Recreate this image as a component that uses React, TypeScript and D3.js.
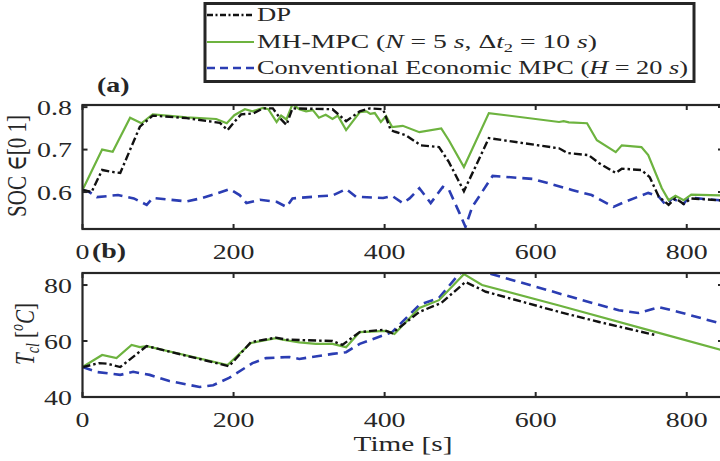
import React from "react";
import * as d3 from "d3";

// Time grid is shared by both panels (seconds)
const timeTicks = [0, 200, 400, 600, 800];
const socTicks = [0.6, 0.7, 0.8];
const tempTicks = [40, 60, 80];

// State of charge trajectories: [time s, SOC]
const socDP: [number, number][] = [
  [0, 0.605], [12, 0.6], [26, 0.652], [37, 0.648], [50, 0.645], [76, 0.754], [93, 0.78],
  [138, 0.774], [182, 0.763], [192, 0.746], [201, 0.765], [210, 0.783], [226, 0.785],
  [239, 0.797], [252, 0.797], [261, 0.775], [270, 0.758], [278, 0.797], [331, 0.795],
  [349, 0.767], [367, 0.79], [380, 0.797], [398, 0.795], [408, 0.746], [414, 0.742],
  [428, 0.734], [448, 0.71], [472, 0.706], [485, 0.671], [505, 0.602], [538, 0.727],
  [631, 0.703], [642, 0.692], [670, 0.687], [684, 0.668], [706, 0.645], [714, 0.655],
  [740, 0.652], [751, 0.635], [763, 0.589], [776, 0.57], [785, 0.585], [796, 0.572],
  [806, 0.585], [848, 0.58],
];
const socMH: [number, number][] = [
  [0, 0.605], [26, 0.7], [40, 0.695], [63, 0.775], [78, 0.762], [93, 0.783], [138, 0.776],
  [177, 0.772], [191, 0.762], [201, 0.781], [215, 0.795], [225, 0.79], [239, 0.798],
  [246, 0.795], [257, 0.765], [263, 0.78], [270, 0.771], [278, 0.807], [287, 0.795],
  [296, 0.79], [305, 0.793], [313, 0.775], [322, 0.782], [331, 0.772], [338, 0.78],
  [349, 0.746], [367, 0.788], [376, 0.79], [381, 0.784], [387, 0.786], [395, 0.765],
  [402, 0.779], [410, 0.753], [424, 0.756], [446, 0.741], [475, 0.75], [485, 0.722],
  [505, 0.659], [538, 0.786], [631, 0.765], [637, 0.767], [644, 0.764], [668, 0.762],
  [681, 0.722], [706, 0.694], [714, 0.71], [740, 0.706], [749, 0.687], [767, 0.609],
  [776, 0.581], [785, 0.591], [796, 0.581], [806, 0.594], [848, 0.592],
];
const socConv: [number, number][] = [
  [0, 0.605], [9, 0.6], [19, 0.588], [47, 0.593], [68, 0.585], [85, 0.57], [93, 0.586],
  [138, 0.578], [156, 0.585], [177, 0.596], [195, 0.607], [208, 0.593], [217, 0.574],
  [235, 0.582], [257, 0.577], [270, 0.565], [278, 0.585], [313, 0.59], [331, 0.592],
  [349, 0.607], [362, 0.589], [398, 0.586], [410, 0.591], [424, 0.574], [433, 0.585],
  [446, 0.609], [461, 0.574], [477, 0.612], [485, 0.606], [499, 0.551], [507, 0.518],
  [516, 0.565], [543, 0.638], [596, 0.631], [648, 0.605], [674, 0.593], [703, 0.565],
  [718, 0.577], [749, 0.598], [763, 0.589], [772, 0.57], [781, 0.585], [796, 0.572],
  [802, 0.587], [848, 0.58],
];

// Coolant temperature trajectories: [time s, T_cl °C]
const tempDP: [number, number][] = [
  [0, 50.7], [22, 52.1], [33, 51.9], [50, 50.7], [85, 58.2], [194, 51], [223, 59.6],
  [256, 61.2], [270, 60.5], [331, 60], [344, 58.6], [367, 63.2], [398, 64], [410, 62.8],
  [446, 70.4], [475, 73.6], [507, 81.1], [534, 77.6], [631, 70.4], [684, 66.8], [759, 62.1],
];
const tempMH: [number, number][] = [
  [0, 50.7], [26, 55], [45, 53.9], [65, 58.6], [76, 57.8], [85, 58.2], [192, 51.4],
  [223, 59.3], [256, 61], [265, 60.5], [287, 59.5], [309, 59], [331, 59], [349, 57.8],
  [367, 63.2], [402, 63.6], [413, 62.5], [446, 71.8], [472, 74.6], [505, 83.9], [529, 80],
  [631, 72.7], [763, 62.9], [848, 56.6],
];
const tempConv: [number, number][] = [
  [0, 50.7], [20, 48.9], [50, 47.9], [67, 49], [89, 47.9], [115, 45.7], [155, 43.6],
  [173, 44.2], [194, 46.8], [225, 52.1], [243, 53.9], [274, 54.3], [287, 53.6], [331, 55.4],
  [349, 56], [367, 59], [410, 63.2], [446, 72.9], [472, 75.4], [494, 82.5], [503, 85],
  [534, 84.5], [631, 77], [675, 73.6], [710, 71], [736, 70], [763, 72.1], [789, 70.4],
  [848, 66],
];

const FONT = "'Liberation Serif', 'DejaVu Serif', serif";
const INK = "#262626";
const SX = 1.33; // horizontal stretch of the typeset labels
const GREEN = "#6db33f";
const BLUE = "#2b3db3";
const BLACK = "#111111";

const x = d3.scaleLinear().domain([0, 848]).range([82.5, 723]);
const ySoc = d3.scaleLinear().domain([0.513, 0.805]).range([229, 105]);
const yTemp = d3.scaleLinear().domain([40, 84.3]).range([397, 273]);

type Pt = [number, number];

function STxt(props: {
  x: number; y: number; anchor?: string; size?: number; weight?: string;
  rotate?: number; children: React.ReactNode;
}) {
  const { x: tx, y: ty, anchor = "start", size = 21, weight = "normal", rotate = 0, children } = props;
  return (
    <text
      transform={`translate(${tx},${ty}) scale(${SX},1)${rotate ? ` rotate(${rotate})` : ""}`}
      textAnchor={anchor}
      fontFamily={FONT}
      fontSize={size}
      fontWeight={weight}
      fill={INK}
    >
      {children}
    </text>
  );
}

function Panel(props: {
  id: string;
  y: d3.ScaleLinear<number, number>;
  yTicks: number[];
  fmt: (v: number) => string;
  dp: Pt[]; mh: Pt[]; conv: Pt[];
}) {
  const { id, y, yTicks, fmt, dp, mh, conv } = props;
  const [x0, x1] = x.range();
  const [yb, yt] = y.range();
  const line = d3.line<Pt>().x((d) => x(d[0])).y((d) => y(d[1]));
  const tl = 5;
  return (
    <g>
      <defs>
        <clipPath id={`clip-${id}`}>
          <rect x={x0} y={yt} width={x1 - x0} height={yb - yt} />
        </clipPath>
      </defs>
      <g clipPath={`url(#clip-${id})`} fill="none">
        <path d={line(conv) ?? ""} stroke={BLUE} strokeWidth={2.6} strokeDasharray="10,6" />
        <path d={line(mh) ?? ""} stroke={GREEN} strokeWidth={2.2} />
        <path d={line(dp) ?? ""} stroke={BLACK} strokeWidth={2.4} strokeDasharray="8,3,2.5,3" />
      </g>
      {/* inward ticks on all four sides */}
      <g stroke={INK} strokeWidth={2}>
        {timeTicks.map((t) => (
          <g key={`xt${t}`}>
            <line x1={x(t)} x2={x(t)} y1={yb} y2={yb - tl} />
            <line x1={x(t)} x2={x(t)} y1={yt} y2={yt + tl} />
          </g>
        ))}
        {yTicks.map((v) => (
          <g key={`yt${v}`}>
            <line x1={x0} x2={x0 + tl} y1={y(v)} y2={y(v)} />
            <line x1={x1} x2={x1 - tl} y1={y(v)} y2={y(v)} />
          </g>
        ))}
      </g>
      <rect x={x0} y={yt} width={x1 - x0} height={yb - yt} fill="none" stroke={INK} strokeWidth={2.2} />
      {timeTicks.map((t) => (
        <STxt key={`xl${t}`} x={x(t)} y={yb + 30} anchor="middle">{t}</STxt>
      ))}
      {yTicks.map((v) => (
        <STxt key={`yl${v}`} x={72} y={y(v) + 7.5} anchor="end">{fmt(v)}</STxt>
      ))}
    </g>
  );
}

export default function App() {
  const legendRows = [
    { y: 15, color: BLACK, dash: "6,2.5,2,2.5", width: 2.4 },
    { y: 42, color: GREEN, dash: undefined, width: 2.2 },
    { y: 68, color: BLUE, dash: "8,5", width: 2.6 },
  ];
  return (
    <svg
      width={720}
      height={461}
      viewBox="0 0 720 461"
      style={{ position: "absolute", left: 0, top: 0, background: "#fff" }}
    >
      <rect x={0} y={0} width={720} height={461} fill="#fff" />
      <Panel id="soc" y={ySoc} yTicks={socTicks} fmt={(v) => v.toFixed(1)} dp={socDP} mh={socMH} conv={socConv} />
      <Panel id="temp" y={yTemp} yTicks={tempTicks} fmt={(v) => String(v)} dp={tempDP} mh={tempMH} conv={tempConv} />

      <STxt x={97} y={92} weight="bold">(a)</STxt>
      <STxt x={92} y={258} weight="bold">(b)</STxt>

      <STxt x={403} y={451} anchor="middle" size={22}>Time [s]</STxt>

      <STxt x={26} y={166} anchor="middle" rotate={-90}>
        SOC ∈[0 1]
      </STxt>
      <STxt x={34} y={334} anchor="middle" rotate={-90}>
        <tspan fontStyle="italic">T</tspan>
        <tspan fontStyle="italic" fontSize={14} dy={4}>cl</tspan>
        <tspan dy={-4}> [</tspan>
        <tspan fontStyle="italic" fontSize={14} dy={-8}>o</tspan>
        <tspan fontStyle="italic" dy={8}>C</tspan>
        <tspan>]</tspan>
      </STxt>

      {/* legend */}
      <rect x={205} y={3.5} width={489} height={78} fill="#fff" stroke={INK} strokeWidth={3} />
      {legendRows.map((r, i) => (
        <line key={i} x1={207} x2={254} y1={r.y} y2={r.y} stroke={r.color} strokeWidth={r.width} strokeDasharray={r.dash} />
      ))}
      <text x={257} y={21} fontFamily={FONT} fontSize={18} fill={INK} textLength={34} lengthAdjust="spacingAndGlyphs">DP</text>
      <text x={257} y={48} fontFamily={FONT} fontSize={18} fill={INK} textLength={340} lengthAdjust="spacingAndGlyphs">
        MH-MPC (<tspan fontStyle="italic">N</tspan> = 5 <tspan fontStyle="italic">s</tspan>, Δ<tspan fontStyle="italic">t</tspan>
        <tspan fontSize={12} dy={4}>2</tspan>
        <tspan dy={-4}> = 10 </tspan>
        <tspan fontStyle="italic">s</tspan>)
      </text>
      <text x={257} y={74} fontFamily={FONT} fontSize={18} fill={INK} textLength={431} lengthAdjust="spacingAndGlyphs">
        Conventional Economic MPC (<tspan fontStyle="italic">H</tspan> = 20 <tspan fontStyle="italic">s</tspan>)
      </text>
    </svg>
  );
}
